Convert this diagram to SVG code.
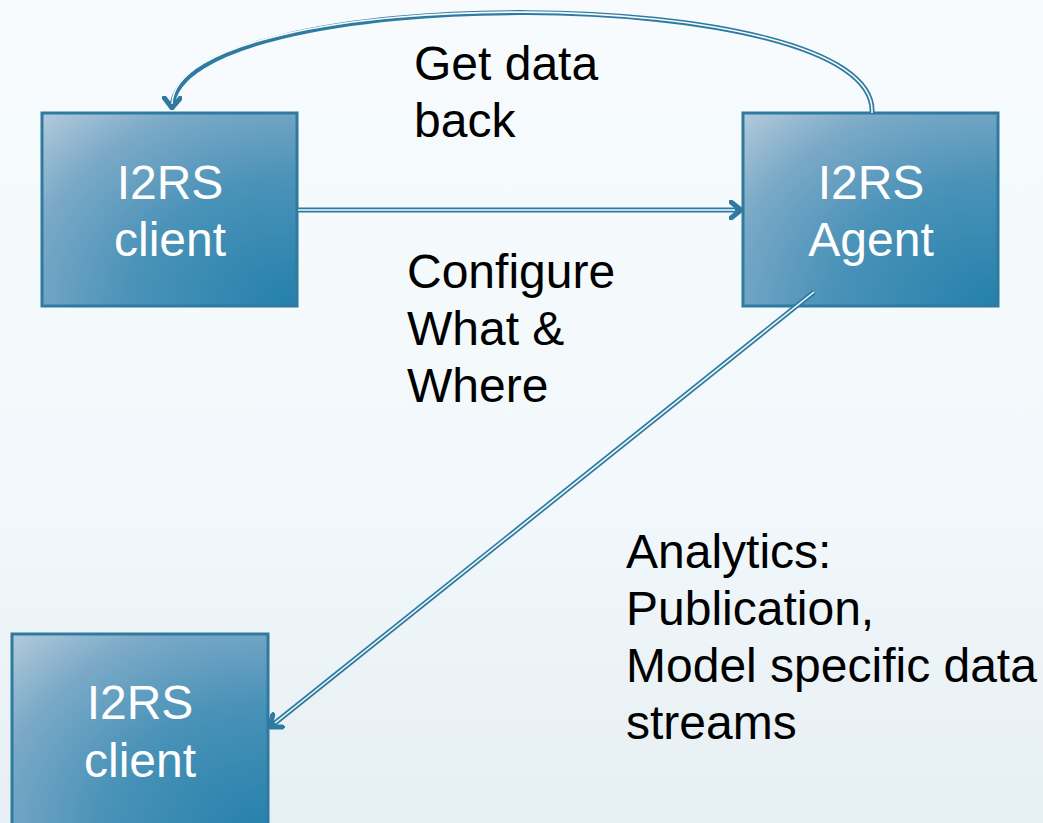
<svg xmlns="http://www.w3.org/2000/svg" width="1043" height="823" viewBox="0 0 1043 823">
  <defs>
    <linearGradient id="bg" x1="0" y1="0" x2="0" y2="1">
      <stop offset="0" stop-color="#f7fbfd"/>
      <stop offset="0.6" stop-color="#f2f8fb"/>
      <stop offset="1" stop-color="#e6eff3"/>
    </linearGradient>
    <radialGradient id="boxFill" cx="1" cy="1" r="1.45" gradientUnits="objectBoundingBox">
      <stop offset="0" stop-color="#2480ab"/>
      <stop offset="0.45" stop-color="#4a92b8"/>
      <stop offset="0.75" stop-color="#7ba9c7"/>
      <stop offset="1" stop-color="#b9cfde"/>
    </radialGradient>
    <marker id="vhead" viewBox="-12 -10 14 20" markerWidth="14" markerHeight="20" refX="0" refY="0" orient="auto" markerUnits="userSpaceOnUse">
      <path d="M -10 -8 L 0 0 L -10 8" fill="none" stroke="#2e7aa0" stroke-width="5" stroke-linecap="round" stroke-linejoin="round"/>
    </marker>
  </defs>
  <style>
    .box { fill: url(#boxFill); stroke: #2f7ba0; stroke-width: 3; }
    .boxText { font-family: "Liberation Sans", Arial, sans-serif; font-size: 48px; fill: #ffffff; text-anchor: middle; }
    .label { font-family: "Liberation Sans", Arial, sans-serif; font-size: 48px; fill: #000000; }
    .wireOuter { fill: none; stroke: #2e7aa0; stroke-width: 5; }
    .wireInner { fill: none; stroke: #f5fafc; stroke-width: 1.6; }
  </style>

  <rect x="0" y="0" width="1043" height="823" fill="url(#bg)"/>

  <!-- nodes -->
  <g id="client-top">
    <rect class="box" x="42" y="113" width="255" height="193"/>
    <text class="boxText" x="170" y="199">I2RS</text>
    <text class="boxText" x="170" y="256">client</text>
  </g>
  <g id="agent">
    <rect class="box" x="743" y="113" width="255" height="193"/>
    <text class="boxText" x="871" y="199">I2RS</text>
    <text class="boxText" x="871" y="256">Agent</text>
  </g>
  <g id="client-bottom">
    <rect class="box" x="12" y="634" width="256" height="200"/>
    <text class="boxText" x="140" y="719">I2RS</text>
    <text class="boxText" x="140" y="777">client</text>
  </g>

  <!-- connectors: double lines with open arrowheads -->
  <g id="connectors">
    <path class="wireOuter" d="M 298 210 L 741 210" marker-end="url(#vhead)"/>
    <path class="wireInner" d="M 298 210 L 735 210"/>

    <path class="wireOuter" d="M 872 113 C 880 -20 175 -20 172 108" marker-end="url(#vhead)"/>
    <path class="wireInner" d="M 872 113 C 880 -20 175 -20 172 104"/>

    <path class="wireOuter" d="M 814 292 L 270 727" marker-end="url(#vhead)"/>
    <path class="wireInner" d="M 814 292 L 275 723"/>
  </g>

  <!-- labels -->
  <g id="labels">
    <text class="label" x="414" y="80">Get data</text>
    <text class="label" x="414" y="137">back</text>
    <text class="label" x="407" y="288">Configure</text>
    <text class="label" x="407" y="345">What &amp;</text>
    <text class="label" x="407" y="402">Where</text>
    <text class="label" x="626" y="568">Analytics:</text>
    <text class="label" x="626" y="625">Publication,</text>
    <text class="label" x="626" y="682">Model specific data</text>
    <text class="label" x="626" y="739">streams</text>
  </g>
</svg>
